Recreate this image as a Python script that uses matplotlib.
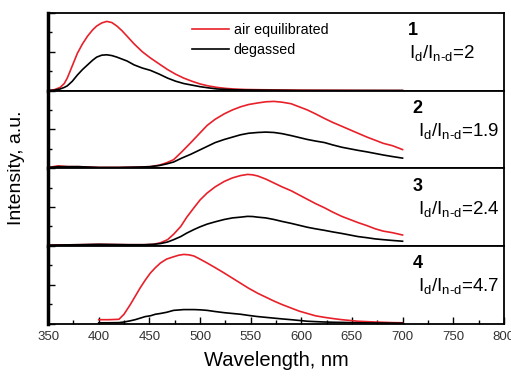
import matplotlib
matplotlib.use('Agg')
import matplotlib.pyplot as plt
from matplotlib.ticker import MultipleLocator

plt.rcParams['font.family'] = ['Liberation Sans', 'DejaVu Sans']
plt.rcParams['mathtext.fontset'] = 'custom'
plt.rcParams['mathtext.rm'] = 'Liberation Sans'

# panel 1
wl1 = [350, 356, 362, 366, 369, 374, 379, 384, 389, 394, 398, 403, 408, 413, 418, 423, 428, 435, 443,
       451, 460, 468, 476, 484, 492, 500, 508, 517, 525, 533, 545, 560, 600, 650, 700]
air1 = [0.0, 0.01, 0.04, 0.09, 0.16, 0.32, 0.48, 0.60, 0.70, 0.78, 0.83, 0.87, 0.89, 0.875, 0.83, 0.77, 0.70, 0.60, 0.50,
        0.42, 0.34, 0.27, 0.21, 0.16, 0.12, 0.085, 0.06, 0.04, 0.028, 0.02, 0.013, 0.01, 0.005, 0.002, 0.0]
deg1 = [0.0, 0.005, 0.02, 0.04, 0.06, 0.12, 0.20, 0.27, 0.33, 0.39, 0.43, 0.455, 0.46, 0.45, 0.43, 0.405, 0.38, 0.33, 0.29,
        0.26, 0.21, 0.16, 0.12, 0.09, 0.07, 0.05, 0.035, 0.02, 0.015, 0.01, 0.007, 0.005, 0.0, 0.0, 0.0]

# panel 2
wl2 = [350, 355, 360, 370, 380, 400, 420, 440, 451, 460, 467, 474, 482, 491, 499, 507, 515, 524, 532, 540,
       548, 557, 565, 573, 581, 590, 598, 606, 614, 623, 631, 640, 648, 656, 665, 673, 681, 690, 700]
air2 = [0.01, 0.02, 0.03, 0.02, 0.02, 0.01, 0.01, 0.015, 0.02, 0.04, 0.07, 0.11, 0.21, 0.33, 0.44, 0.55, 0.63, 0.70, 0.75, 0.79,
        0.82, 0.84, 0.855, 0.86, 0.85, 0.83, 0.79, 0.75, 0.70, 0.64, 0.59, 0.54, 0.495, 0.45, 0.40, 0.36, 0.32, 0.29, 0.24]
deg2 = [0.01, 0.015, 0.02, 0.02, 0.02, 0.01, 0.01, 0.015, 0.02, 0.035, 0.055, 0.08, 0.13, 0.18, 0.23, 0.28, 0.33, 0.37, 0.40, 0.43,
        0.45, 0.46, 0.465, 0.46, 0.445, 0.42, 0.395, 0.37, 0.35, 0.33, 0.30, 0.27, 0.25, 0.23, 0.21, 0.19, 0.17, 0.15, 0.13]

# panel 3
wl3 = [350, 380, 400, 430, 445, 454, 461, 468, 474, 481, 487, 494, 500, 507, 515, 524, 532, 540, 547, 552,
       557, 565, 573, 581, 590, 598, 606, 614, 623, 631, 640, 648, 656, 665, 673, 681, 690, 700]
air3 = [0.01, 0.015, 0.02, 0.015, 0.015, 0.02, 0.04, 0.08, 0.15, 0.25, 0.37, 0.49, 0.59, 0.68, 0.76, 0.83, 0.875, 0.905, 0.92, 0.915,
        0.90, 0.86, 0.81, 0.76, 0.71, 0.655, 0.60, 0.545, 0.49, 0.435, 0.38, 0.34, 0.30, 0.26, 0.22, 0.19, 0.17, 0.14]
deg3 = [0.01, 0.015, 0.02, 0.015, 0.015, 0.02, 0.03, 0.05, 0.08, 0.12, 0.165, 0.21, 0.245, 0.28, 0.31, 0.34, 0.36, 0.37, 0.38, 0.378,
        0.37, 0.36, 0.34, 0.315, 0.29, 0.265, 0.24, 0.22, 0.20, 0.18, 0.16, 0.14, 0.12, 0.105, 0.09, 0.08, 0.07, 0.06]

# panel 4
wl4 = [400, 410, 420, 425, 431, 436, 441, 446, 451, 456, 461, 467, 474, 479, 484, 489, 494, 500, 507, 515,
       524, 532, 540, 548, 557, 565, 573, 581, 590, 598, 606, 614, 623, 631, 640, 656, 673, 690, 700]
air4 = [0.05, 0.05, 0.055, 0.12, 0.24, 0.35, 0.46, 0.56, 0.65, 0.72, 0.78, 0.83, 0.86, 0.88, 0.89, 0.885, 0.87, 0.83, 0.78, 0.72,
        0.65, 0.585, 0.52, 0.455, 0.39, 0.34, 0.29, 0.245, 0.20, 0.16, 0.13, 0.10, 0.08, 0.065, 0.05, 0.03, 0.02, 0.012, 0.01]
deg4 = [0.01, 0.01, 0.012, 0.02, 0.035, 0.05, 0.07, 0.09, 0.10, 0.12, 0.13, 0.145, 0.17, 0.175, 0.18, 0.18, 0.18, 0.177, 0.17, 0.155,
        0.14, 0.13, 0.12, 0.105, 0.09, 0.08, 0.07, 0.06, 0.05, 0.04, 0.03, 0.025, 0.02, 0.017, 0.015, 0.01, 0.008, 0.006, 0.005]

panels = [(wl1, air1, deg1), (wl2, air2, deg2), (wl3, air3, deg3), (wl4, air4, deg4)]
numbers = ['1', '2', '3', '4']
ratios = ['2', '1.9', '2.4', '4.7']

fig = plt.figure(figsize=(5.11, 3.78), dpi=100)
axes = fig.subplots(4, 1, sharex=True)
fig.subplots_adjust(left=0.094, right=0.986, top=0.966, bottom=0.144, hspace=0)

for i, ax in enumerate(axes):
    wl, air, deg = panels[i]
    ax.plot(wl, air, color='#e8202a', lw=1.2, label='air equilibrated')
    ax.plot(wl, deg, color='black', lw=1.2, label='degassed')
    ax.set_xlim(350, 800)
    ax.set_ylim(0, 1)
    ax.yaxis.set_major_locator(MultipleLocator(0.5))
    ax.yaxis.set_minor_locator(MultipleLocator(0.25))
    ax.set_yticklabels([])
    ax.tick_params(axis='y', which='major', direction='in', length=5, width=1)
    ax.tick_params(axis='y', which='minor', direction='in', length=3, width=1)
    for s in ax.spines.values():
        s.set_linewidth(1.3)
    ax.spines['left'].set_linewidth(2.5)
    xn = 0.79 if i == 0 else 0.80
    ax.text(xn, 0.77, numbers[i], transform=ax.transAxes, fontsize=13,
            fontweight='bold', ha='left', va='center')
    ax.text(xn + (0.003 if i == 0 else 0.011), 0.47,
            r'I$_\mathregular{d}$/I$_\mathregular{n\text{-}d}$=' + ratios[i],
            transform=ax.transAxes, fontsize=13.5, ha='left', va='center')
    if i < 3:
        ax.tick_params(axis='x', which='both', bottom=False)

axes[0].legend(loc='upper left', bbox_to_anchor=(0.316, 0.87), frameon=False,
               fontsize=10.3, handlelength=2.6, handletextpad=0.3, labelspacing=0.45,
               borderpad=0, borderaxespad=0)

ax = axes[-1]
ax.xaxis.set_major_locator(MultipleLocator(50))
ax.xaxis.set_minor_locator(MultipleLocator(25))
ax.tick_params(axis='x', which='major', direction='in', length=5, width=1, labelsize=9.5,
               labelcolor='#333333', pad=5)
ax.tick_params(axis='x', which='minor', direction='in', length=3, width=1)
ax.set_xlabel('Wavelength, nm', fontsize=14.5, labelpad=6)
fig.text(0.032, 0.555, 'Intensity, a.u.', rotation=90, fontsize=14, ha='center', va='center')

fig.savefig('out.png', dpi=100)
